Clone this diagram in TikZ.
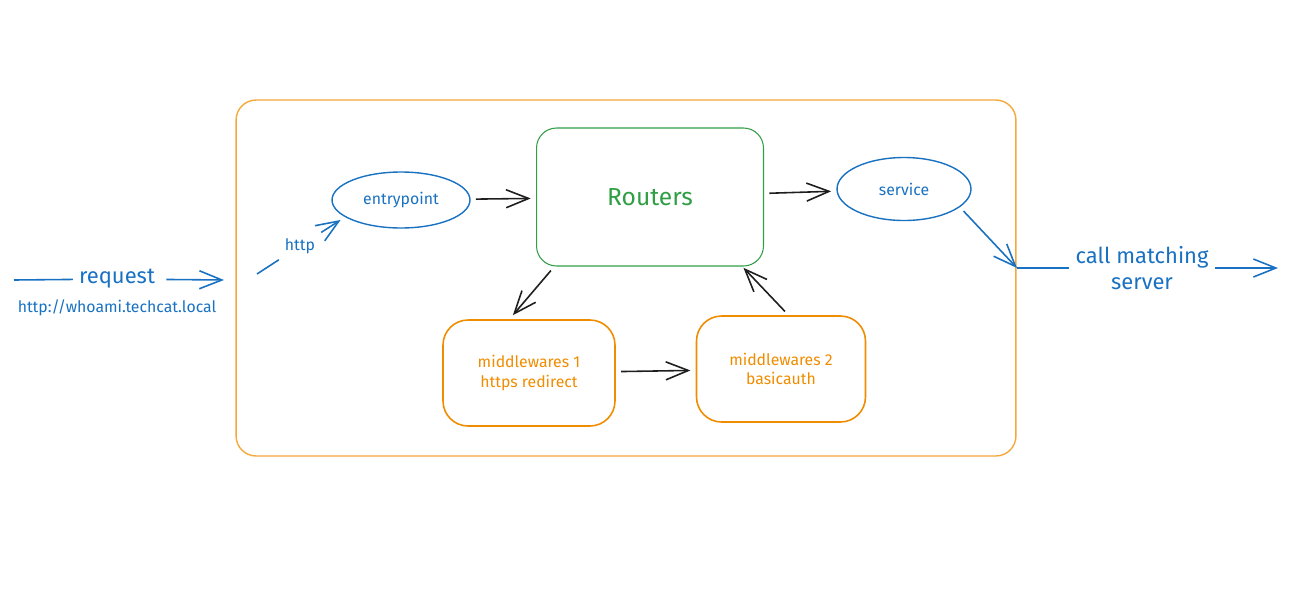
\documentclass[tikz,border=0pt]{standalone}
\usepackage{fontspec}
\setmainfont{Fira Sans}
\usetikzlibrary{positioning,arrows.meta,shapes.geometric}

\definecolor{inkblue}{HTML}{1971C2}
\definecolor{inkgreen}{HTML}{2F9E44}
\definecolor{inkorange}{HTML}{F08C00}
\definecolor{frameorange}{HTML}{F5A83C}
\definecolor{inkblack}{HTML}{1E1E1E}

\tikzset{
	flow/.style={line width=0.9pt,-{Straight Barb[length=4.5mm,width=3.6mm]},shorten >=3pt,shorten <=3pt},
	oval/.style={ellipse,draw=inkblue,line width=0.8pt,text=inkblue,inner sep=0pt},
	mwbox/.style={draw=inkorange,line width=0.9pt,rounded corners=0.5cm,text=inkorange,
		align=center,minimum width=3.44cm,minimum height=2.12cm},
	small/.style={font=\fontsize{9}{11}\selectfont},
	big/.style={font=\fontsize{12.5}{15}\selectfont}
}

\begin{document}
\begin{tikzpicture}[x=0.02cm,y=-0.02cm,every node/.style={small}]
	\useasboundingbox (0,0) rectangle (1312,599);
	% Outer frame
	\node[draw=frameorange,line width=0.8pt,rounded corners=0.4cm,
		minimum width=15.6cm,minimum height=7.12cm] (frame) at (626,278) {};
	% Routers and the two middlewares
	\node[draw=inkgreen,line width=0.6pt,rounded corners=0.4cm,text=inkgreen,
		minimum width=4.54cm,minimum height=2.76cm,font=\fontsize{14}{17}\selectfont]
		(routers) at (650,197) {Routers};
	\node[mwbox] (mwone) at (529,373) {middlewares 1\\https redirect};
	\node[mwbox,minimum width=3.38cm] (mwtwo) at (781,369) {middlewares 2\\basicauth};
	% Entrypoint and service
	\node[oval,minimum width=2.76cm,minimum height=1.12cm] (entry) at (401,200) {entrypoint};
	\node[oval,minimum width=2.68cm,minimum height=1.26cm] (service) at (904,189) {service};

	% Black connectors
	\begin{scope}[inkblack]
		\draw[flow] (entry) -- (routers);
		\draw[flow] (routers) -- (service);
		\draw[flow] (routers.216) -- (mwone.110);
		\draw[flow] (mwone) -- (mwtwo);
		\draw[flow,shorten >=1pt] (mwtwo.82) -- (routers.-37);
	\end{scope}

	% Incoming request
	\begin{scope}[inkblue]
		\coordinate (reqin) at (14,280);
		\coordinate (reqout) at (224,280);
		\node[big,text=inkblue] (request) at (117,279) {request};
		\node[text=inkblue] (url) at (117,308) {http://whoami.techcat.local};
		\draw[line width=0.9pt] (reqin) -- (request);
		\draw[flow,shorten >=0pt] (request) -- (reqout);

		\coordinate (httpin) at (257,274);
		\node[text=inkblue] (http) at (300,246) {http};
		\draw[line width=0.9pt] (httpin) -- (http);
		\draw[flow,shorten <=0pt] (http) -- (entry.197);

		% Outgoing call
		\coordinate (callin) at (1017,268);
		\coordinate (callout) at (1278,268);
		\node[big,text=inkblue,align=center] (call) at (1142,268) {call matching\\server};
		\draw[flow,shorten >=0pt] (service.-18) -- (callin);
		\draw[line width=0.9pt] (callin) -- (call.west |- callin);
		\draw[flow,shorten >=0pt,shorten <=0pt] (call.east |- callout) -- (callout);
	\end{scope}
\end{tikzpicture}
\end{document}
